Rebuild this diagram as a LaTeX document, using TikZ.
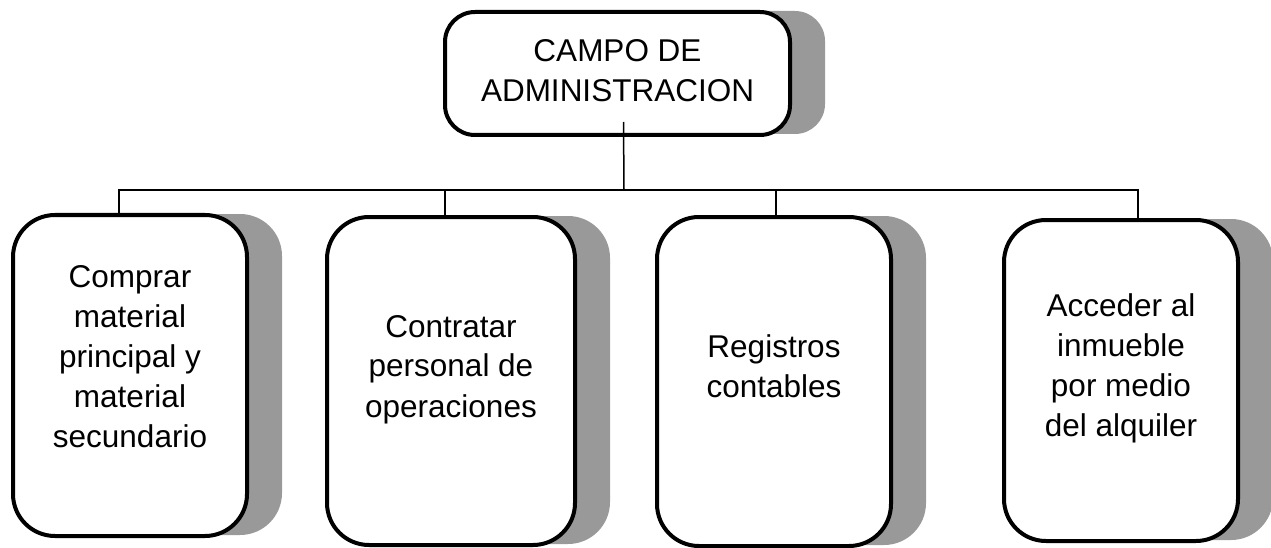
\documentclass[tikz,border=0pt]{standalone}
\usepackage{fontspec}
\setmainfont{Liberation Sans}
\usetikzlibrary{shadows}

\begin{document}
\begin{tikzpicture}[
  x=1pt, y=-1pt,
  headbox/.style={rectangle, draw, line width=4pt, fill=white, rounded corners=30pt,
                  minimum width=345pt, minimum height=123pt, align=center,
                  font=\fontsize{31.5}{40}\selectfont,
                  drop shadow={shadow xshift=35pt, shadow yshift=1pt, fill=black!40, opacity=1}},
  card/.style={headbox, rounded corners=42pt, minimum width=234pt, text depth=30pt},
  link/.style={line width=1.5pt}
]
\useasboundingbox (0,0) rectangle (1271,548);

\node[headbox, text depth=6pt] (head) at (617.5,73.5) {CAMPO DE\\ADMINISTRACION};

\node[card, minimum height=321pt, text depth=38pt] (buy) at (130,375.5)
      {Comprar\\material\\principal y\\material\\secundario};
\node[card, minimum width=248pt, minimum height=328pt] (hire) at (451,381)
      {Contratar\\personal de\\operaciones};
\node[card, minimum height=329pt] (books) at (774,381.5)
      {Registros\\contables};
\node[card, minimum height=321pt] (rent) at (1121,380.5)
      {Acceder al\\inmueble\\por medio\\del alquiler};

% tree lines
\coordinate (hub)   at (624,190);
\coordinate (drop1) at (119,190);
\coordinate (drop2) at (445,190);
\coordinate (drop3) at (776,190);
\coordinate (drop4) at (1138,190);

\draw[link] ([xshift=6pt, yshift=15pt]head.south) -- (hub);
\draw[link] (drop1 |- buy.north) -- (drop1) -- (drop4) -- (drop4 |- rent.north);
\draw[link] (drop2) -- (drop2 |- hire.north);
\draw[link] (drop3) -- (drop3 |- books.north);
\end{tikzpicture}
\end{document}
